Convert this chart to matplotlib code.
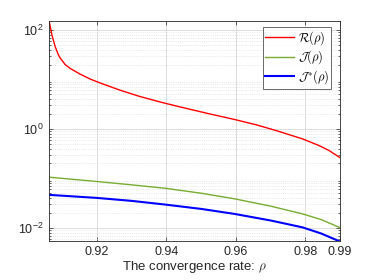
import numpy as np
import matplotlib
matplotlib.use("Agg")
import matplotlib.pyplot as plt
from matplotlib.ticker import LogLocator, FixedLocator, NullFormatter

# values
rho_r = [0.90611, 0.90631, 0.90709, 0.90803, 0.90898, 0.90947, 0.91090, 0.91234,
         0.91521, 0.91808, 0.92095, 0.92669, 0.93243, 0.93817, 0.94391, 0.94700,
         0.95251, 0.95968, 0.96591, 0.97165, 0.97928, 0.98407, 0.98694, 0.99000]
R_vals = [152, 147, 79, 45.8, 31.1, 27.0, 20.0, 16.7,
          12.8, 10.2, 8.5, 6.07, 4.52, 3.51, 2.79, 2.48,
          2.01, 1.55, 1.21, 0.925, 0.627, 0.458, 0.363, 0.263]

rho_j = [0.90611, 0.92000, 0.93004, 0.93980, 0.95013, 0.95968,
         0.97022, 0.97928, 0.98456, 0.99000]
J_vals = [0.106, 0.0865, 0.074, 0.063, 0.050, 0.0386,
          0.0273, 0.0191, 0.0147, 0.0101]
Js_vals = [0.0465, 0.0403, 0.0351, 0.0295, 0.0241, 0.0191,
           0.0140, 0.0102, 0.0077, 0.0053]

x_ticks = [0.92, 0.94, 0.96, 0.98, 0.99]
x_labels = ["0.92", "0.94", "0.96", "0.98", "0.99"]

plt.rcParams["font.family"] = ["Liberation Sans", "DejaVu Sans"]
plt.rcParams["mathtext.fontset"] = "cm"

fig = plt.figure(figsize=(3.74, 2.8), dpi=100)
ax = fig.add_axes([0.1297, 0.139, 0.7793, 0.786])

ax.semilogy(rho_r, R_vals, color="#ff0000", lw=1.0, label=r"$\mathcal{R}(\rho)$")
ax.semilogy(rho_j, J_vals, color="#77ac30", lw=1.0, label=r"$\mathcal{J}(\rho)$")
ax.semilogy(rho_j, Js_vals, color="#0000ff", lw=1.5, label=r"$\mathcal{J}^{*}(\rho)$")

ax.set_xlim(0.9061, 0.99)
ax.set_ylim(0.0054, 152)

ax.xaxis.set_major_locator(FixedLocator(x_ticks))
ax.set_xticklabels(x_labels)
ax.yaxis.set_major_locator(FixedLocator([1e-2, 1e0, 1e2]))
ax.yaxis.set_minor_locator(LogLocator(base=10, subs=np.arange(2, 10)))
ax.yaxis.set_minor_formatter(NullFormatter())

ax.grid(True, which="major", color="#dcdcdc", lw=0.7, ls="-")
ax.grid(True, which="minor", axis="y", color="#d9d9d9", lw=0.5, ls=":")
ax.set_axisbelow(True)

ax.tick_params(which="both", direction="in", top=True, right=True,
               labelsize=9, colors="#262626", length=3, width=0.5)
ax.tick_params(which="minor", length=1.5)
for sp in ax.spines.values():
    sp.set_color("#262626")
    sp.set_linewidth(0.6)

ax.set_xlabel(r"The convergence rate: $\rho$", fontsize=9.5, color="#262626", labelpad=1)

leg = ax.legend(loc="upper right", bbox_to_anchor=(0.97, 0.975), fontsize=9,
                frameon=True, fancybox=False, edgecolor="#262626",
                handlelength=2.3, borderpad=0.2, labelspacing=0.15,
                handletextpad=0.3, borderaxespad=0.0)
leg.get_frame().set_linewidth(0.6)

fig.savefig("out.png", dpi=100)
